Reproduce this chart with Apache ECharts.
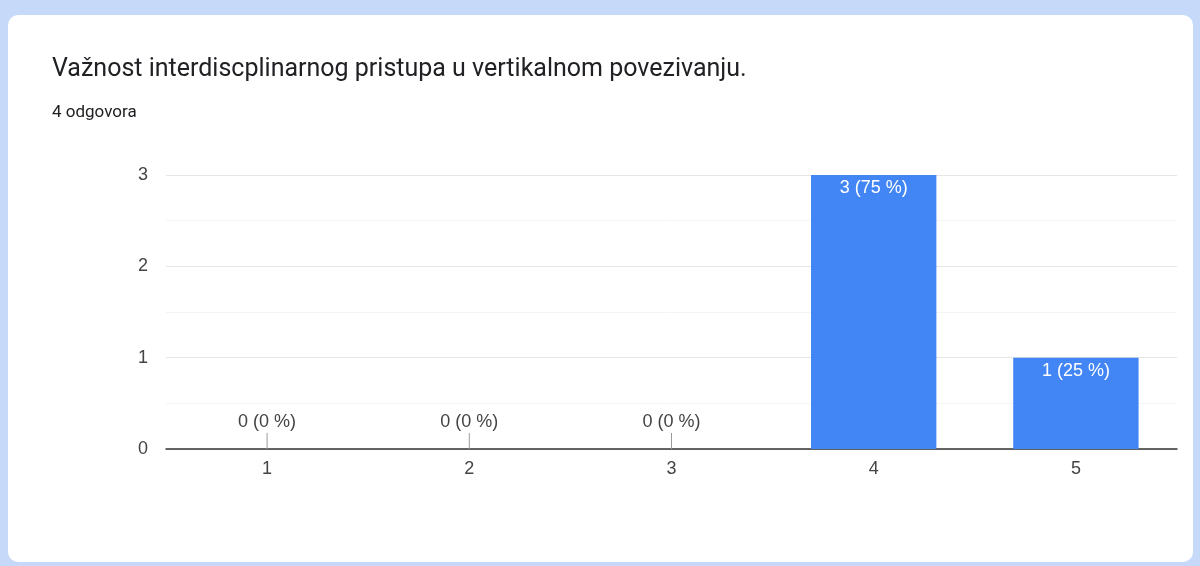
<!DOCTYPE html>
<html>
<head>
<meta charset="utf-8">
<script src="https://cdn.jsdelivr.net/npm/echarts@6/dist/echarts.min.js"></script>
<style>
  html, body { margin: 0; padding: 0; width: 1200px; height: 566px; background: #c6d9f8; overflow: hidden; }
  #card { position: absolute; left: 8px; top: 15px; width: 1185px; height: 547px; background: #ffffff; border-radius: 10px; }
  #chart { position: absolute; left: 0; top: 0; width: 1200px; height: 566px; }
</style>
</head>
<body>
<div id="card"></div>
<div id="chart"></div>
<script>
const titleText = 'Važnost interdiscplinarnog pristupa u vertikalnom povezivanju.';
const subtitleText = '4 odgovora';
const categories = ['1', '2', '3', '4', '5'];
const values = [0, 0, 0, 3, 1];
const yTicks = [0, 1, 2, 3];

const total = values.reduce((a, b) => a + b, 0);
const labelOf = v => v + ' (' + Math.round(v / total * 100) + ' %)';
const labelFont = 'Liberation Sans, Arial, sans-serif';

const chart = echarts.init(document.getElementById('chart'), null, { renderer: 'canvas' });
chart.setOption({
  backgroundColor: 'transparent',
  animation: false,
  title: {
    text: titleText,
    subtext: subtitleText,
    left: 52,
    top: 57,
    padding: 0,
    itemGap: 22,
    textStyle: { fontFamily: 'Roboto', fontSize: 25, fontWeight: 'normal', color: '#202124' },
    subtextStyle: { fontFamily: 'Roboto', fontSize: 17, color: '#202124' }
  },
  grid: { left: 166, right: 23, top: 175, bottom: 117 },
  xAxis: [
    {
      type: 'category',
      data: categories,
      axisLine: { lineStyle: { color: '#333333', width: 1.5 } },
      axisTick: { show: false },
      axisLabel: { fontFamily: labelFont, fontSize: 18, color: '#444444', margin: 11 }
    },
    {
      type: 'category',
      data: categories,
      position: 'bottom',
      show: false
    }
  ],
  yAxis: {
    type: 'value',
    min: 0,
    max: yTicks[yTicks.length - 1],
    interval: 0.5,
    axisLine: { show: false },
    axisTick: { show: false },
    axisLabel: {
      fontFamily: labelFont, fontSize: 18, color: '#444444', margin: 18,
      formatter: v => (yTicks.indexOf(v) >= 0 ? String(v) : '')
    },
    splitLine: { lineStyle: { color: ['#e6e6e6', '#f4f4f4'], width: 1 } }
  },
  series: [
    {
      type: 'bar',
      xAxisIndex: 0,
      data: values,
      barWidth: '62%',
      itemStyle: { color: '#4285f4' },
      label: {
        show: true,
        position: 'insideTop',
        distance: 4,
        fontFamily: labelFont,
        fontSize: 18,
        color: '#ffffff',
        formatter: p => (p.value > 0 ? labelOf(p.value) : '')
      }
    },
    {
      type: 'bar',
      xAxisIndex: 1,
      data: values.map(v => (v === 0 ? 0 : '-')),
      barWidth: 1,
      barMinHeight: 16,
      itemStyle: { color: '#9a9a9a' },
      label: {
        show: true,
        position: 'top',
        distance: 2,
        fontFamily: labelFont,
        fontSize: 18,
        color: '#444444',
        formatter: p => labelOf(p.value)
      }
    }
  ]
});
</script>
</body>
</html>
